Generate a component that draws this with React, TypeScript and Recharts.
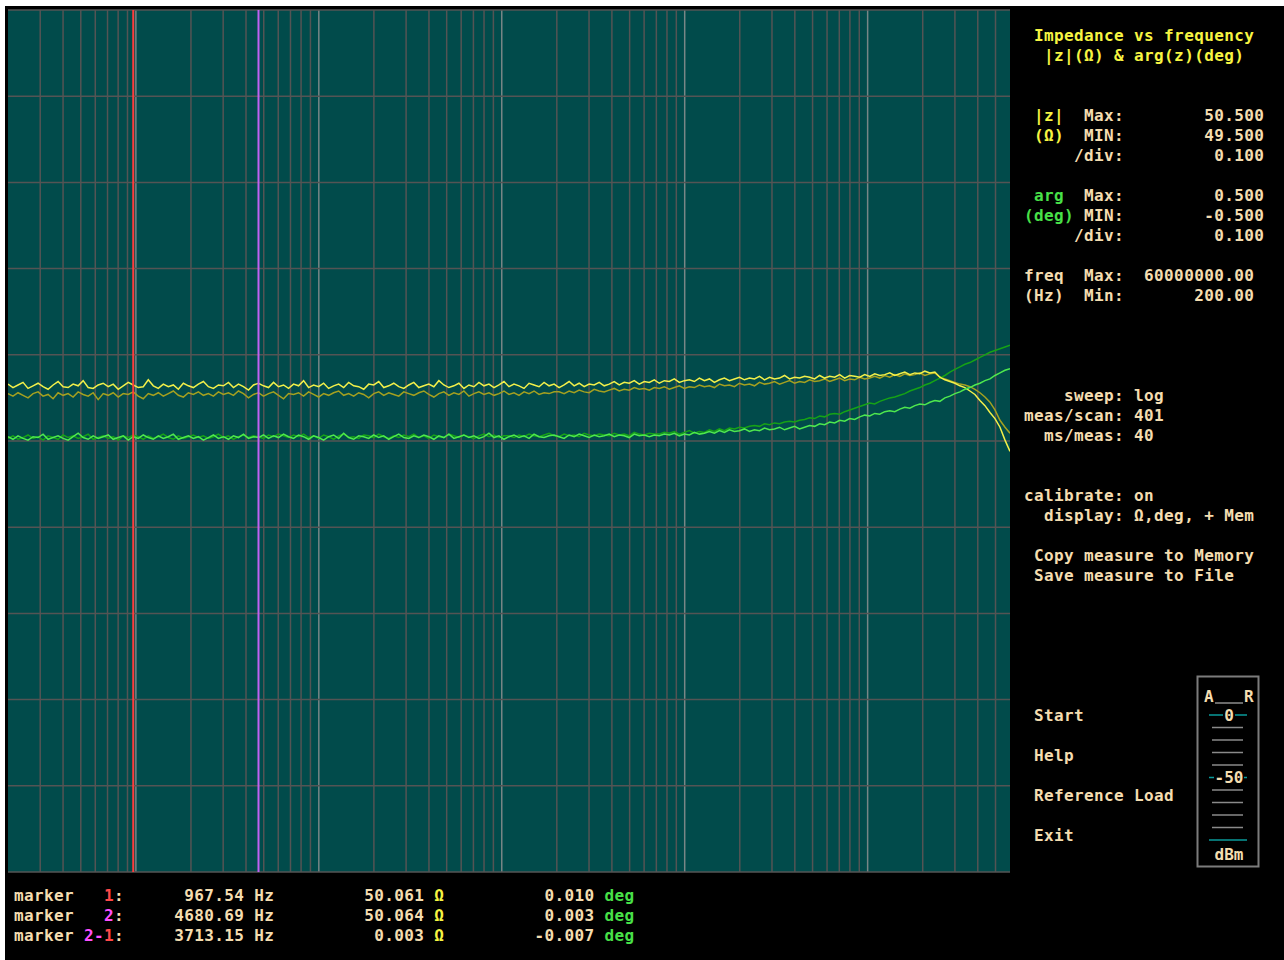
import React from 'react';
import { LineChart, Line, XAxis, YAxis, ReferenceLine } from 'recharts';

// ---- instrument settings ----
const FREQ_MIN = 200;
const FREQ_MAX = 60000000;
const Z_MIN = 49.5;
const Z_MAX = 50.5;
const ARG_MIN = -0.5;
const ARG_MAX = 0.5;

// |z| (ohm) current measurement
const Z_CUR = [
  50.066, 50.062, 50.065, 50.068, 50.061, 50.064, 50.067, 50.063, 50.060, 50.065, 50.069, 50.063, 50.062, 50.066, 50.064, 50.070, 50.062, 50.061, 50.065, 50.067,
  50.063, 50.066, 50.060, 50.064, 50.068, 50.065, 50.062, 50.063, 50.071, 50.064, 50.061, 50.066, 50.063, 50.065, 50.060, 50.067, 50.064, 50.062, 50.066, 50.069,
  50.063, 50.061, 50.065, 50.064, 50.068, 50.062, 50.066, 50.063, 50.059, 50.065, 50.067, 50.064, 50.062, 50.068, 50.063, 50.065, 50.061, 50.066, 50.064, 50.070,
  50.062, 50.065, 50.063, 50.067, 50.061, 50.064, 50.066, 50.062, 50.068, 50.064, 50.063, 50.060, 50.066, 50.065, 50.069, 50.062, 50.064, 50.067, 50.063, 50.061,
  50.065, 50.068, 50.062, 50.064, 50.066, 50.063, 50.070, 50.065, 50.062, 50.064, 50.067, 50.061, 50.065, 50.063, 50.068, 50.064, 50.066, 50.062, 50.065, 50.069,
  50.063, 50.066, 50.064, 50.061, 50.067, 50.065, 50.063, 50.068, 50.064, 50.066, 50.062, 50.065, 50.069, 50.064, 50.067, 50.063, 50.066, 50.065, 50.068, 50.064,
  50.066, 50.069, 50.065, 50.068, 50.067, 50.070, 50.066, 50.069, 50.068, 50.071, 50.067, 50.070, 50.069, 50.072, 50.068, 50.070, 50.071, 50.069, 50.073, 50.070,
  50.072, 50.068, 50.071, 50.073, 50.070, 50.072, 50.074, 50.071, 50.073, 50.072, 50.075, 50.071, 50.074, 50.072, 50.073, 50.076, 50.072, 50.074, 50.073, 50.075,
  50.074, 50.072, 50.076, 50.073, 50.075, 50.074, 50.077, 50.073, 50.076, 50.075, 50.074, 50.077, 50.075,
  50.078, 50.076, 50.077, 50.079, 50.076, 50.078, 50.080, 50.077, 50.079, 50.078, 50.081, 50.079, 50.080,
  50.074, 50.071, 50.069, 50.067, 50.064, 50.062, 50.058, 50.054, 50.047, 50.041, 50.033, 50.026, 50.016, 50.001, 49.988,
];

// |z| (ohm) memory trace
const Z_MEM = [
  50.055, 50.052, 50.056, 50.053, 50.050, 50.055, 50.057, 50.052, 50.054, 50.049, 50.056, 50.053, 50.055, 50.051, 50.057, 50.054, 50.052, 50.056, 50.048, 50.055,
  50.053, 50.056, 50.051, 50.055, 50.054, 50.057, 50.052, 50.049, 50.055, 50.053, 50.056, 50.052, 50.055, 50.058, 50.053, 50.051, 50.056, 50.054, 50.057, 50.053,
  50.055, 50.052, 50.057, 50.054, 50.056, 50.053, 50.058, 50.055, 50.050, 50.054, 50.056, 50.052, 50.055, 50.057, 50.053, 50.049, 50.055, 50.054, 50.056, 50.052,
  50.057, 50.054, 50.051, 50.055, 50.053, 50.056, 50.058, 50.053, 50.055, 50.052, 50.056, 50.054, 50.050, 50.055, 50.057, 50.053, 50.056, 50.054, 50.052, 50.057,
  50.055, 50.053, 50.056, 50.058, 50.054, 50.051, 50.055, 50.057, 50.053, 50.056, 50.054, 50.058, 50.052, 50.055, 50.057, 50.054, 50.056, 50.053, 50.055, 50.058,
  50.054, 50.056, 50.053, 50.057, 50.055, 50.058, 50.054, 50.056, 50.055, 50.057,
  50.057, 50.055, 50.058, 50.056, 50.059, 50.057, 50.056, 50.060, 50.058, 50.057, 50.059, 50.061, 50.058, 50.060, 50.059, 50.062, 50.060, 50.061, 50.059, 50.062,
  50.061, 50.063, 50.060, 50.062, 50.064, 50.061, 50.063, 50.062, 50.065, 50.063, 50.064, 50.062, 50.066, 50.064, 50.065, 50.063, 50.067, 50.065, 50.066, 50.064,
  50.068, 50.066, 50.067, 50.069, 50.066, 50.068, 50.070, 50.067, 50.069, 50.068, 50.071, 50.069, 50.070, 50.072, 50.069, 50.071, 50.073, 50.070, 50.072, 50.071,
  50.074, 50.072, 50.073,
  50.075, 50.073, 50.076, 50.074, 50.077, 50.075, 50.078, 50.076, 50.077, 50.079, 50.076, 50.078, 50.079,
  50.074, 50.072, 50.070, 50.068, 50.066, 50.065, 50.063, 50.060, 50.056, 50.051, 50.045, 50.036, 50.024, 50.016, 50.009,
];

// arg(z) (deg) current measurement
const ARG_CUR = [
  0.005, 0.002, 0.006, 0.003, 0.001, 0.005, 0.004, 0.008, 0.002, 0.004, 0.006, 0.003, 0.001, 0.005, 0.009, 0.004, 0.002, 0.006, 0.003, 0.005,
  0.007, 0.002, 0.004, 0.006, 0.001, 0.005, 0.003, 0.007, 0.004, 0.002, 0.006, 0.003, 0.005, 0.008, 0.002, 0.004, 0.006, 0.003, 0.005, 0.001,
  0.004, 0.007, 0.003, 0.005, 0.002, 0.006, 0.004, 0.008, 0.003, 0.005, 0.004, 0.007, 0.003, 0.006, 0.004, 0.008, 0.005, 0.003, 0.007, 0.005,
  0.002, 0.006, 0.004, 0.001, 0.005, 0.007, 0.003, 0.009, 0.004, 0.002, 0.006, 0.005, 0.003, 0.007, 0.004, 0.006, 0.002, 0.005, 0.008, 0.004,
  0.003, 0.006, 0.004, 0.007, 0.005, 0.002, 0.006, 0.004, 0.008, 0.003, 0.005, 0.007, 0.004, 0.006, 0.003, 0.005, 0.009, 0.004, 0.006, 0.002,
  0.005, 0.007, 0.004, 0.006, 0.003, 0.008, 0.005, 0.004, 0.006, 0.007, 0.005, 0.003, 0.007, 0.005, 0.008, 0.006, 0.004, 0.007, 0.005, 0.006,
  0.008, 0.005, 0.007, 0.006, 0.004, 0.008, 0.006, 0.007, 0.005, 0.007,
  0.006, 0.008, 0.007, 0.009, 0.006, 0.008, 0.007, 0.010, 0.008, 0.009,
  0.011, 0.009, 0.012, 0.010, 0.013, 0.011, 0.012, 0.014, 0.011, 0.013,
  0.012, 0.015, 0.013, 0.014, 0.016, 0.013, 0.015, 0.017, 0.014, 0.016,
  0.018, 0.017, 0.020, 0.019, 0.022, 0.021, 0.024, 0.023, 0.026, 0.025,
  0.028, 0.030, 0.029, 0.032, 0.031, 0.034, 0.035, 0.034, 0.037, 0.039,
  0.038, 0.041, 0.043, 0.042, 0.045, 0.047, 0.046, 0.050, 0.052, 0.055,
  0.057, 0.060, 0.062, 0.065, 0.067, 0.070, 0.072, 0.076, 0.079, 0.082, 0.084,
];

// arg(z) (deg) memory trace
const ARG_MEM = [
  0.003, 0.006, 0.002, 0.004, 0.007, 0.003, 0.005, 0.001, 0.006, 0.004, 0.002, 0.007, 0.004, 0.006, 0.003, 0.005, 0.008, 0.002, 0.004, 0.006,
  0.003, 0.005, 0.001, 0.006, 0.004, 0.007, 0.005, 0.002, 0.006, 0.003, 0.005, 0.008, 0.004, 0.002, 0.006, 0.003, 0.005, 0.007, 0.004, 0.006,
  0.003, 0.005, 0.008, 0.004, 0.006, 0.002, 0.005, 0.007, 0.004, 0.006, 0.005, 0.003, 0.007, 0.005, 0.008, 0.006, 0.004, 0.007, 0.005, 0.008,
  0.004, 0.006, 0.003, 0.007, 0.005, 0.002, 0.006, 0.008, 0.004, 0.005, 0.003, 0.007, 0.006, 0.004, 0.008, 0.005, 0.003, 0.006, 0.004, 0.007,
  0.005, 0.008, 0.004, 0.006, 0.003, 0.007, 0.005, 0.004, 0.008, 0.006, 0.004, 0.007, 0.005, 0.003, 0.006, 0.008, 0.005, 0.007, 0.004, 0.006,
  0.006, 0.004, 0.007, 0.005, 0.008, 0.006, 0.005, 0.007, 0.009, 0.006, 0.005, 0.008, 0.006, 0.007, 0.005, 0.009, 0.007, 0.006, 0.008, 0.007,
  0.006, 0.009, 0.007, 0.008, 0.006, 0.010, 0.008, 0.007, 0.009, 0.008,
  0.008, 0.010, 0.009, 0.011, 0.008, 0.010, 0.012, 0.009, 0.011, 0.010,
  0.013, 0.011, 0.014, 0.012, 0.015, 0.014, 0.016, 0.015, 0.017, 0.018,
  0.017, 0.020, 0.019, 0.021, 0.020, 0.022, 0.023, 0.022, 0.024, 0.025,
  0.027, 0.026, 0.029, 0.028, 0.031, 0.032, 0.031, 0.034, 0.036, 0.038,
  0.040, 0.042, 0.044, 0.043, 0.046, 0.048, 0.050, 0.051, 0.053, 0.055,
  0.058, 0.060, 0.062, 0.065, 0.067, 0.070, 0.073, 0.076, 0.080, 0.083,
  0.086, 0.089, 0.091, 0.094, 0.097, 0.100, 0.103, 0.105, 0.107, 0.109, 0.111,
];

// vertical grid (log frequency) and horizontal grid levels
const GRID_FREQS = [
  300, 400, 500, 600, 700, 800, 900,
  2000, 3000, 4000, 5000, 6000, 7000, 8000, 9000,
  20000, 30000, 40000, 50000, 60000, 70000, 80000, 90000,
  200000, 300000, 400000, 500000, 600000, 700000, 800000, 900000,
  2000000, 3000000, 4000000, 5000000, 6000000, 7000000, 8000000, 9000000,
  20000000, 30000000, 40000000, 50000000,
];
const DECADE_FREQS = [1000, 10000, 100000, 1000000, 10000000];
const Z_LEVELS = [49.5, 49.6, 49.7, 49.8, 49.9, 50.0, 50.1, 50.2, 50.3, 50.4, 50.5];

// markers
const MARKER_FREQS = [967.54, 4680.69];
const MARKER_COLORS = ['#ff3c3c', '#c062f2'];

// dBm meter ticks
const DBM_TICKS = [0, -10, -20, -30, -40, -50, -60, -70, -80, -90, -100];
const DBM_MAJOR = [0, -50, -100];

// log sweep frequency points (sweep: log, from Min to Max)
const SWEEP_FREQS = Z_CUR.map(
  (_, i) => FREQ_MIN * Math.pow(FREQ_MAX / FREQ_MIN, i / (Z_CUR.length - 1))
);

const data = SWEEP_FREQS.map((f, i) => ({
  f: Math.min(Math.max(f, FREQ_MIN), FREQ_MAX),
  zc: Z_CUR[i],
  zm: Z_MEM[i],
  ac: ARG_CUR[i],
  am: ARG_MEM[i],
}));

const CREAM = '#f4ddb0';
const YEL = '#f6f442';
const GRN = '#48e048';
const RED = '#ff4848';
const MAG = '#ff50ff';
const FONT = "'DejaVu Sans Mono', 'Liberation Mono', monospace";

type Seg = { t: string; c?: string };

function Row({ x, base, segs }: { x: number; base: number; segs: Seg[] }) {
  return (
    <div
      style={{
        position: 'absolute',
        left: x,
        top: base - 15.5,
        whiteSpace: 'pre',
        fontFamily: FONT,
        fontSize: 16,
        fontWeight: 'bold',
        letterSpacing: '0.375px',
        lineHeight: '20px',
        color: CREAM,
      }}
    >
      {segs.map((s, i) => (
        <span key={i} style={{ color: s.c || CREAM }}>
          {s.t}
        </span>
      ))}
    </div>
  );
}

const PX = 1024; // right panel column start
const BX = 14; // bottom panel column start

function Meter() {
  const y0 = 45;
  const k = 1.25;
  const yOf = (d: number) => y0 + -d * k;
  return (
    <svg
      width={80}
      height={200}
      style={{ position: 'absolute', left: 1190, top: 670 }}
    >
      <rect x={7.5} y={6.5} width={61} height={190} fill="#000" stroke="#7c7c7c" strokeWidth={2} />
      <line x1={25} x2={53} y1={33} y2={33} stroke="#8c8c8c" strokeWidth={1.5} />
      {DBM_TICKS.map((d) => {
        const major = DBM_MAJOR.includes(d);
        return (
          <line
            key={d}
            x1={major ? 19 : 22}
            x2={major ? 57 : 53}
            y1={yOf(d)}
            y2={yOf(d)}
            stroke={major ? '#0a9a9a' : '#8a8a8a'}
            strokeWidth={1.5}
          />
        );
      })}
      <rect x={33} y={yOf(0) - 7} width={12} height={14} fill="#000" />
      <rect x={24} y={yOf(-50) - 7} width={30} height={14} fill="#000" />
      <g fontFamily={FONT} fontSize={16} fontWeight="bold" fill={CREAM}>
        <text x={14} y={32}>A</text>
        <text x={54} y={32}>R</text>
        <text x={39} y={yOf(0) + 6} textAnchor="middle">0</text>
        <text x={39} y={yOf(-50) + 5} textAnchor="middle">-50</text>
        <text x={39} y={190} textAnchor="middle">dBm</text>
      </g>
    </svg>
  );
}

export default function App() {
  return (
    <div style={{ position: 'absolute', left: 0, top: 0, width: 1284, height: 960, background: '#fff' }}>
      <div style={{ position: 'absolute', left: 5, top: 6, width: 1279, height: 954, background: '#000' }} />
      <div style={{ position: 'absolute', left: 8, top: 10, width: 1002, height: 862, background: '#014b4b' }} />
      <div style={{ position: 'absolute', left: 8, top: 9 }}>
        <LineChart
          width={1002}
          height={864}
          data={data}
          margin={{ top: 1, right: 0, bottom: 1, left: 0 }}
        >
          <XAxis
            dataKey="f"
            type="number"
            scale="log"
            domain={[FREQ_MIN, FREQ_MAX]}
            allowDataOverflow
            hide
          />
          <YAxis yAxisId="z" domain={[Z_MIN, Z_MAX]} allowDataOverflow hide />
          <YAxis yAxisId="arg" orientation="right" domain={[ARG_MIN, ARG_MAX]} allowDataOverflow hide />
          {GRID_FREQS.map((f) => (
            <ReferenceLine key={'g' + f} x={f} yAxisId="z" stroke="#545454" strokeWidth={1.5} ifOverflow="visible" />
          ))}
          {DECADE_FREQS.map((f) => (
            <ReferenceLine key={'d' + f} x={f} yAxisId="z" stroke="#788686" strokeWidth={1.5} ifOverflow="visible" />
          ))}
          {Z_LEVELS.map((v) => (
            <ReferenceLine key={'h' + v} y={v} yAxisId="z" stroke="#545454" strokeWidth={1.5} ifOverflow="visible" />
          ))}
          <Line yAxisId="z" type="linear" dataKey="zm" stroke="#a4a020" strokeWidth={1.5} dot={false} isAnimationActive={false} />
          <Line yAxisId="arg" type="linear" dataKey="am" stroke="#16a216" strokeWidth={1.5} dot={false} isAnimationActive={false} />
          <Line yAxisId="z" type="linear" dataKey="zc" stroke="#f2f04a" strokeWidth={1.5} dot={false} isAnimationActive={false} />
          <Line yAxisId="arg" type="linear" dataKey="ac" stroke="#4ee84e" strokeWidth={1.5} dot={false} isAnimationActive={false} />
          {MARKER_FREQS.map((f, i) => (
            <ReferenceLine key={'m' + i} x={f} yAxisId="z" stroke={MARKER_COLORS[i]} strokeWidth={2} ifOverflow="visible" />
          ))}
        </LineChart>
      </div>

      {/* right panel */}
      <Row x={PX} base={41.5} segs={[{ t: ' Impedance vs frequency', c: YEL }]} />
      <Row x={PX} base={61.5} segs={[{ t: '  |z|(Ω) & arg(z)(deg)', c: YEL }]} />

      <Row x={PX} base={121.5} segs={[{ t: ' |z|', c: YEL }, { t: '  Max:        50.500' }]} />
      <Row x={PX} base={141.5} segs={[{ t: ' (Ω)', c: YEL }, { t: '  MIN:        49.500' }]} />
      <Row x={PX} base={161.5} segs={[{ t: '     /div:         0.100' }]} />

      <Row x={PX} base={201.5} segs={[{ t: ' arg', c: GRN }, { t: '  Max:         0.500' }]} />
      <Row x={PX} base={221.5} segs={[{ t: '(deg)', c: GRN }, { t: ' MIN:        -0.500' }]} />
      <Row x={PX} base={241.5} segs={[{ t: '     /div:         0.100' }]} />

      <Row x={PX} base={281.5} segs={[{ t: 'freq  Max:  60000000.00' }]} />
      <Row x={PX} base={301.5} segs={[{ t: '(Hz)  Min:       200.00' }]} />

      <Row x={PX} base={401.5} segs={[{ t: '    sweep: log' }]} />
      <Row x={PX} base={421.5} segs={[{ t: 'meas/scan: 401' }]} />
      <Row x={PX} base={441.5} segs={[{ t: '  ms/meas: 40' }]} />

      <Row x={PX} base={501.5} segs={[{ t: 'calibrate: on' }]} />
      <Row x={PX} base={521.5} segs={[{ t: '  display: Ω,deg, + Mem' }]} />

      <Row x={PX} base={561.5} segs={[{ t: ' Copy measure to Memory' }]} />
      <Row x={PX} base={581.5} segs={[{ t: ' Save measure to File' }]} />

      <Row x={PX} base={721.5} segs={[{ t: ' Start' }]} />
      <Row x={PX} base={761.5} segs={[{ t: ' Help' }]} />
      <Row x={PX} base={801.5} segs={[{ t: ' Reference Load' }]} />
      <Row x={PX} base={841.5} segs={[{ t: ' Exit' }]} />

      <Meter />

      {/* bottom marker readout */}
      <Row
        x={BX}
        base={901.5}
        segs={[
          { t: 'marker   ' },
          { t: '1', c: RED },
          { t: ':      967.54 Hz         50.061 ' },
          { t: 'Ω', c: YEL },
          { t: '          0.010 ' },
          { t: 'deg', c: GRN },
        ]}
      />
      <Row
        x={BX}
        base={921.5}
        segs={[
          { t: 'marker   ' },
          { t: '2', c: MAG },
          { t: ':     4680.69 Hz         50.064 ' },
          { t: 'Ω', c: YEL },
          { t: '          0.003 ' },
          { t: 'deg', c: GRN },
        ]}
      />
      <Row
        x={BX}
        base={941.5}
        segs={[
          { t: 'marker ' },
          { t: '2-', c: MAG },
          { t: '1', c: RED },
          { t: ':     3713.15 Hz          0.003 ' },
          { t: 'Ω', c: YEL },
          { t: '         -0.007 ' },
          { t: 'deg', c: GRN },
        ]}
      />
    </div>
  );
}
